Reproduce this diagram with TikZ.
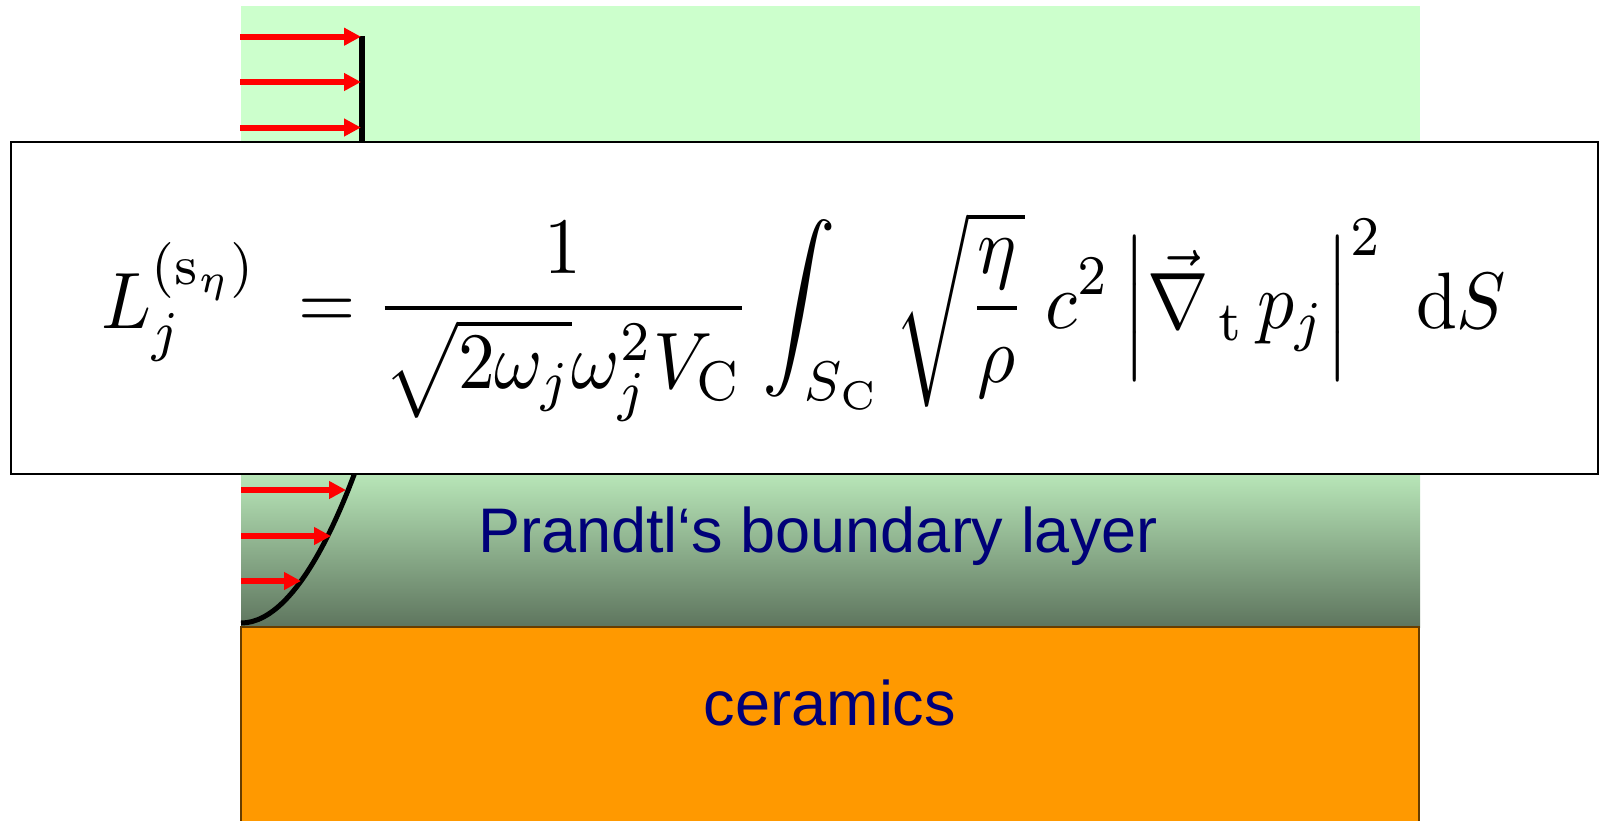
\documentclass[tikz,border=0pt]{standalone}
\usepackage{amsmath,amssymb}
\usepackage{xcolor}
\usepackage{fontspec}
\newfontfamily\arialfont{Liberation Sans}
\usetikzlibrary{arrows.meta}

\definecolor{flowgreen}{RGB}{204,255,204}
\definecolor{wallgreen}{RGB}{94,117,94}
\definecolor{ceramicorange}{RGB}{255,153,0}
\definecolor{labelblue}{RGB}{0,0,120}

\tikzset{
  flow/.style={red, line width=3pt, -{Triangle[length=8.5pt,width=8.5pt]}},
  layerlabel/.style={anchor=base, text=labelblue, font=\arialfont\fontsize{31.5}{38}\selectfont}
}

\begin{document}
\begin{tikzpicture}[x=0.5pt,y=-0.5pt]
\useasboundingbox (0,0) rectangle (1599,820);

% fluid and boundary layer
\fill[flowgreen] (241,6) rectangle (1420,627);
\shade[top color=flowgreen, bottom color=wallgreen] (241,440) rectangle (1420,627);

% ceramic wall
\fill[ceramicorange, draw=black!60!ceramicorange, line width=0.6pt] (241,627) rectangle (1419,830);

% velocity profile
\draw[line width=3.4pt] (362,36) -- (362,320);
\draw[line width=2.5pt] (241,623) parabola (362,453);

\foreach \y in {36.7,82,127.5}
  \draw[flow] (240,\y) -- (361,\y);
\foreach \y/\x in {490/346,536/331,581/301}
  \draw[flow] (241,\y) -- (\x,\y);

\node[layerlabel] (prandtl) at (818,552) {Prandtl‘s boundary layer};
\node[layerlabel] (ceramics) at (830,725) {ceramics};

% loss formula
\draw[fill=white, line width=1pt] (11,142) rectangle (1598,474);
\node[anchor=base, xscale=3.68, yscale=4] (formula) at (804,328)
  {$\displaystyle L_j^{(\mathrm{s}_\eta)} \;= \frac{1}{\sqrt{2\omega_j}\omega_j^2 V_{\mathrm{C}}}
   \int_{S_{\mathrm{C}}} \sqrt{\frac{\eta}{\rho}}\; c^2 \left|\vec{\nabla}_{\,\mathrm{t}}\, p_j\right|^2 \;\mathrm{d}S$};

\end{tikzpicture}
\end{document}
